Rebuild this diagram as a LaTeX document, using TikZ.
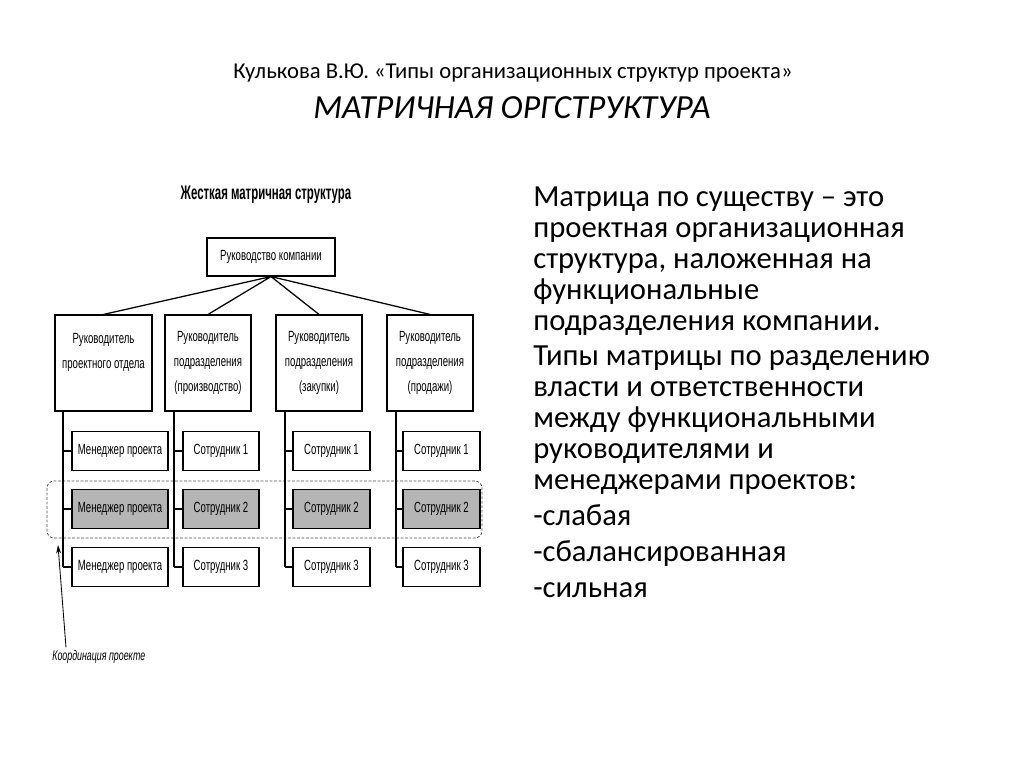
\documentclass[tikz,border=0pt]{standalone}
\usepackage{fontspec}
\setmainfont{Carlito}
\newfontfamily\narrowfont[FakeStretch=0.65]{Liberation Sans}
\newfontfamily\boldnarrow[FakeStretch=0.58]{Liberation Sans Bold}
\newfontfamily\italnarrow[FakeStretch=0.63]{Liberation Sans Italic}
\usetikzlibrary{positioning,arrows.meta}
\newcommand{\pxl}{0.025cm}
\definecolor{cellgray}{HTML}{B5B5B5}

\begin{document}
\begin{tikzpicture}[x=\pxl,y=-\pxl,
  box/.style={draw,line width=0.8pt,fill=white,inner sep=1pt,align=center,
    font=\narrowfont\fontsize{10.5}{17.5}\selectfont},
  head/.style={box,minimum height=96*\pxl},
  cell/.style={box,minimum height=39*\pxl},
  hot/.style={cell,fill=cellgray},
  link/.style={line width=0.9pt},
  group/.style={draw=black!70,line width=0.5pt,dash pattern=on 2pt off 1.2pt,
    rounded corners=5pt,minimum width=435*\pxl,minimum height=57*\pxl}]
  \useasboundingbox (0,0) rectangle (1024,767);

  % titles
  \node[font=\fontsize{16.1}{19}\selectfont] (T) at (513,73)
    {Кулькова В.Ю. «Типы организационных структур проекта»};
  \node[font=\itshape\fontsize{24}{28}\selectfont] (TT) at (512,108)
    {МАТРИЧНАЯ ОРГСТРУКТУРА};

  % text on the right
  \node[anchor=north west,inner sep=0,align=left,
    font=\fontsize{21.8}{22}\selectfont] (D) at (533,187)
    {Матрица по существу -- это\\
     проектная организационная\\
     структура, наложенная на\\
     функциональные\\
     подразделения компании.\\[3pt]
     Типы матрицы по разделению\\
     власти и ответственности\\
     между функциональными\\
     руководителями и\\
     менеджерами проектов:\\[3.5pt]
     -слабая\\[3.5pt]
     -сбалансированная\\[3.5pt]
     -сильная};

  % diagram
  \node[font=\boldnarrow\fontsize{14}{16}\selectfont] (S) at (266,195)
    {Жесткая матричная структура};
  \node[box,minimum width=128*\pxl,minimum height=38*\pxl] (R) at (271,257)
    {Руководство компании};

  \node[head,minimum width=97*\pxl] (H1) at (103.5,363)
    {Руководитель\\проектного отдела\\~};
  \node[head,minimum width=86*\pxl] (H2) at (208,363)
    {Руководитель\\подразделения\\(производство)};
  \node[head,minimum width=86*\pxl] (H3) at (319,363)
    {Руководитель\\подразделения\\(закупки)};
  \node[head,minimum width=86*\pxl] (H4) at (430,363)
    {Руководитель\\подразделения\\(продажи)};

  \draw[link] (R.south) -- (H1.north) (R.south) -- (H2.north)
              (R.south) -- (H3.north) (R.south) -- (H4.north);

  % project coordination band
  \node[group] (G) at (264.5,509.5) {};

  \coordinate (V1) at (63,0);
  \coordinate (V2) at (174,0);
  \coordinate (V3) at (285,0);
  \coordinate (V4) at (396,0);

  \draw[link] (V1 |- H1.south) -- (V1 |- 0,567) (V2 |- H2.south) -- (V2 |- 0,567)
              (V3 |- H3.south) -- (V3 |- 0,567) (V4 |- H4.south) -- (V4 |- 0,567);

  \node[cell,minimum width=96*\pxl] (M1) at (120,451) {Менеджер проекта};
  \node[hot,minimum width=96*\pxl] (M2) at (120,509) {Менеджер проекта};
  \node[cell,minimum width=96*\pxl] (M3) at (120,567) {Менеджер проекта};

  \node[cell,minimum width=76*\pxl] (P1) at (221,451) {Сотрудник 1};
  \node[hot,minimum width=76*\pxl] (P2) at (221,509) {Сотрудник 2};
  \node[cell,minimum width=76*\pxl] (P3) at (221,567) {Сотрудник 3};

  \node[cell,minimum width=77*\pxl] (Q1) at (331.5,451) {Сотрудник 1};
  \node[hot,minimum width=77*\pxl] (Q2) at (331.5,509) {Сотрудник 2};
  \node[cell,minimum width=77*\pxl] (Q3) at (331.5,567) {Сотрудник 3};

  \node[cell,minimum width=77*\pxl] (U1) at (441.5,451) {Сотрудник 1};
  \node[hot,minimum width=77*\pxl] (U2) at (441.5,509) {Сотрудник 2};
  \node[cell,minimum width=77*\pxl] (U3) at (441.5,567) {Сотрудник 3};

  \draw[link] (V1 |- M1.west) -- (M1.west) (V1 |- M2.west) -- (M2.west)
              (V1 |- M3.west) -- (M3.west);
  \draw[link] (V2 |- P1.west) -- (P1.west) (V2 |- P2.west) -- (P2.west)
              (V2 |- P3.west) -- (P3.west);
  \draw[link] (V3 |- Q1.west) -- (Q1.west) (V3 |- Q2.west) -- (Q2.west)
              (V3 |- Q3.west) -- (Q3.west);
  \draw[link] (V4 |- U1.west) -- (U1.west) (V4 |- U2.west) -- (U2.west)
              (V4 |- U3.west) -- (U3.west);

  % label with arrow
  \node[anchor=west,inner sep=0,font=\italnarrow\fontsize{10}{12}\selectfont] (K)
    at (52,657) {Координация проекте};
  \coordinate (tip) at (58,545);
  \draw[line width=0.6pt,-{Stealth[length=6pt,width=3.5pt]}]
    ([xshift=14*\pxl,yshift=2pt]K.north west) -- (tip);
\end{tikzpicture}
\end{document}
